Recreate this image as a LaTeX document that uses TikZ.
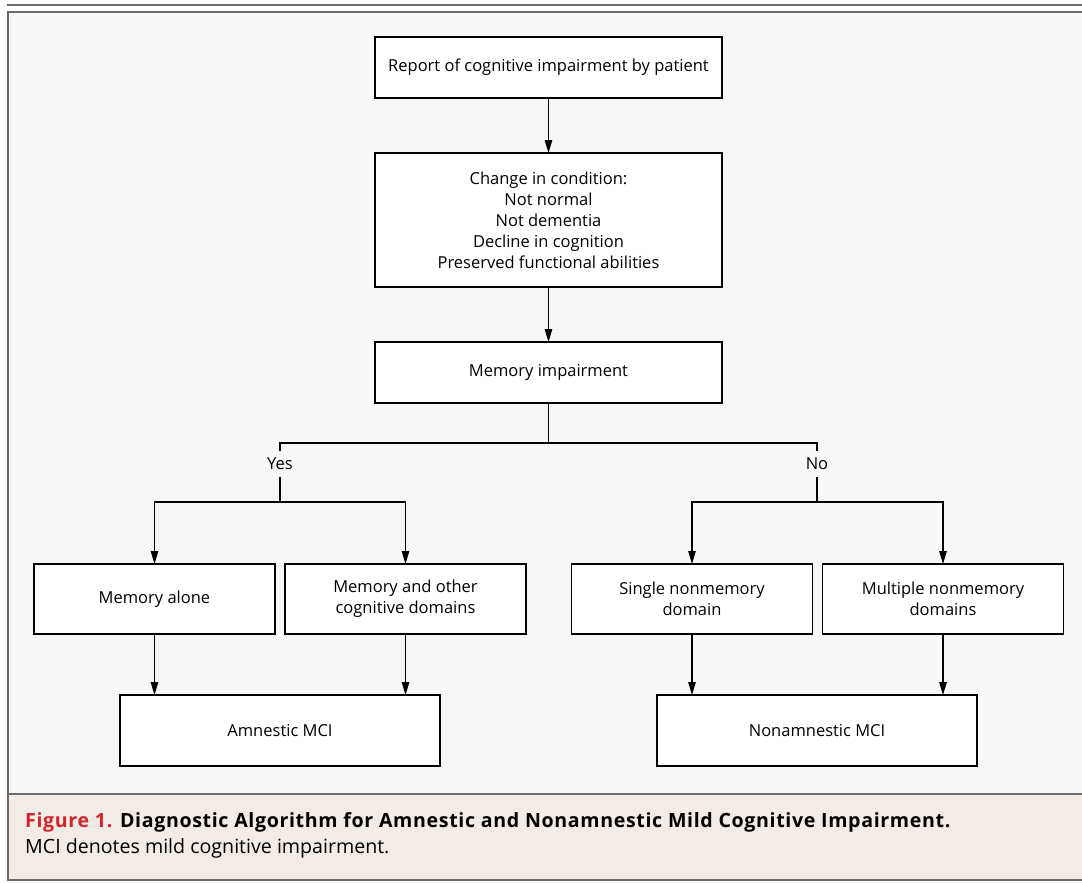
\documentclass[tikz,border=0pt]{standalone}
\usepackage{fontspec}
\setmainfont{Open Sans}
\usepackage{xcolor}
\usetikzlibrary{arrows.meta, positioning, calc}
\definecolor{panelbg}{HTML}{F7F7F7}
\definecolor{capbg}{HTML}{F3EBE5}
\definecolor{rulegray}{HTML}{6B6B6B}
\definecolor{figred}{HTML}{D3242B}

\begin{document}
\begin{tikzpicture}[
        x=1pt, y=-1pt,
        font=\fontsize{16.5}{21}\selectfont,
        node distance=55pt and 10pt,
        box/.style={draw, line width=1.1pt, fill=white, align=center, inner sep=0pt, outer sep=0pt, minimum width=347pt, minimum height=61pt},
        branch/.style={box, minimum width=241pt, minimum height=70pt},
        outcome/.style={box, minimum width=320pt, minimum height=71pt},
        lbl/.style={inner xsep=2pt, inner ysep=7pt, outer sep=0pt},
        link/.style={line width=1.1pt},
        arr/.style={link, -{Triangle[length=13pt, width=7.5pt]}},
        caption/.style={anchor=base west, inner sep=0pt, font=\fontsize{19.6}{24}\selectfont}
    ]
        \useasboundingbox (0,0) rectangle (1082,883);
        \clip (0,0) rectangle (1082,883);
        \draw[line width=2pt, rulegray] (7,5) -- (1090,5);
        \draw[line width=2pt, rulegray, fill=panelbg] (8,12) rectangle (1090,880);
        \draw[line width=2pt, rulegray, fill=capbg] (8,794) rectangle (1090,880);

        \node[box] (report) at (548.5,67.5) {Report of cognitive impairment by patient};
        \node[box, minimum height=134pt, below=of report] (change) {Change in condition:\\Not normal\\Not dementia\\Decline in cognition\\Preserved functional abilities};
        \node[box, below=of change] (memory) {Memory impairment};
        \node[lbl] (yes) at (280,464) {Yes};
        \node[lbl] (no) at (817,464) {No};
        \node[branch] (alone) at (154.5,599) {Memory alone};
        \node[branch, right=of alone] (other) {Memory and other\\cognitive domains};
        \node[branch] (single) at (692,599) {Single nonmemory\\domain};
        \node[branch, right=of single] (multiple) {Multiple nonmemory\\domains};
        \node[outcome] (amnestic) at (280,730.5) {Amnestic MCI};
        \node[outcome] (nonamnestic) at (817,730.5) {Nonamnestic MCI};
        \coordinate (split) at (548.5,443);
        \coordinate (yesfork) at (280,502);
        \coordinate (nofork) at (817,502);

        \draw[arr] (report) -- (change);
        \draw[arr] (change) -- (memory);
        \draw[link] (memory) -- (split) -| (yes.north);
        \draw[link] (split) -| (no.north);
        \draw[link] (yes) -- (yesfork);
        \draw[link] (no) -- (nofork);
        \draw[arr] (yesfork) -| (alone.north);
        \draw[arr] (yesfork) -| (other.north);
        \draw[arr] (nofork) -| (single.north);
        \draw[arr] (nofork) -| (multiple.north);
        \draw[arr] (alone) -- (alone |- amnestic.north);
        \draw[arr] (other) -- (other |- amnestic.north);
        \draw[arr] (single) -- (single |- nonamnestic.north);
        \draw[arr] (multiple) -- (multiple |- nonamnestic.north);

        \node[caption] (title) at (25,827.5) {\bfseries\addfontfeatures{LetterSpace=3.3}\textcolor{figred}{Figure 1.} Diagnostic Algorithm for Amnestic and Nonamnestic Mild Cognitive Impairment.};
        \node[caption] (note) at (25,853) {MCI denotes mild cognitive impairment.};
    \end{tikzpicture}
\end{document}
